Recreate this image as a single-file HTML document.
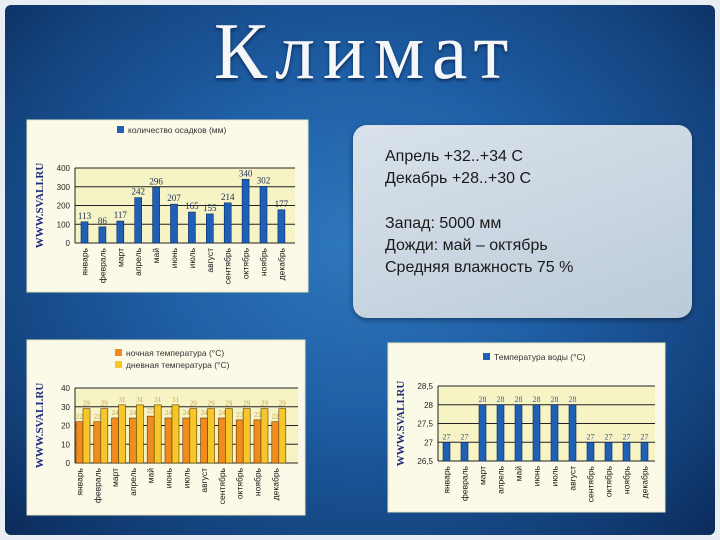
<!DOCTYPE html>
<html><head><meta charset="utf-8">
<style>
html,body{margin:0;padding:0;}
body{width:720px;height:540px;overflow:hidden;background:#e8eef4;font-family:"Liberation Sans",sans-serif;}
#slide{position:absolute;left:5px;top:5px;width:710px;height:530px;border-radius:6px;overflow:hidden;
background:radial-gradient(ellipse at 50% 45%,#2f78bd 0%,#1f5fa6 40%,#14447f 75%,#0b2b5a 100%);}
#title{position:absolute;left:0;width:720px;top:2px;text-align:center;font-family:"Liberation Serif",serif;font-size:80px;color:#f4f6f8;letter-spacing:8px;text-shadow:0 2px 3px #0a2a55;}
#textbox{position:absolute;left:348px;top:120px;width:339px;height:193px;border-radius:14px;background:linear-gradient(160deg,#d9e2ea,#bccbd9);box-shadow:0 2px 6px rgba(0,0,0,.4);}
#textbox div{position:absolute;left:32px;font-size:16px;color:#1a1a1a;white-space:nowrap;}
svg{position:absolute;left:0;top:0;}
</style></head>
<body>
<div id="slide">
<div id="title">Климат</div>
<div id="textbox">
<div style="top:23px">Апрель +32..+34 С</div>
<div style="top:45px">Декабрь +28..+30 С</div>
<div style="top:90px">Запад: 5000 мм</div>
<div style="top:112px">Дожди: май – октябрь</div>
<div style="top:134px">Средняя влажность 75 %</div>
</div>
</div>
<svg id="charts" width="720" height="540"></svg>
<script>
const months=["январь","февраль","март","апрель","май","июнь","июль","август","сентябрь","октябрь","ноябрь","декабрь"];
const rainValues=[113,86,117,242,296,207,165,155,214,340,302,177];
const rainTicks=[0,100,200,300,400];
const nightTemps=[22,22,24,24,25,24,24,24,24,23,23,22];
const dayTemps=[29,29,31,31,31,31,29,29,29,29,29,29];
const tempTicks=[0,10,20,30,40];
const waterTemps=[27,27,28,28,28,28,28,28,27,27,27,27];
const waterTicks=[26.5,27,27.5,28,28.5];

const svg=document.getElementById('charts');
const NS="http://www.w3.org/2000/svg";
function mk(tag,attrs,parent){const e=document.createElementNS(NS,tag);for(const k in attrs)e.setAttribute(k,attrs[k]);(parent||svg).appendChild(e);return e;}

function chart(o){
  const g=mk('g',{});
  
  
  const p=mk('rect',{x:o.px,y:o.py,width:o.pw,height:o.ph,fill:'#fbfae8',stroke:'#e6e2c0'},g);
  
  
  const pl=mk('rect',{x:o.x0,y:o.y1,width:o.x1-o.x0,height:o.y0-o.y1,fill:'#f6f3c4'},g);
  
  
  const ys=v=>o.y0-(v-o.ticks[0])/(o.ticks[o.ticks.length-1]-o.ticks[0])*(o.y0-o.y1);
  const xs=i=>o.x0+o.first+i*o.step;
  o.ticks.forEach(t=>{
    const ln=mk('line',{x1:o.x0,x2:o.x1,y1:ys(t),y2:ys(t),stroke:'#222','stroke-width':1},g);
    
    
    const tx=mk('text',{x:o.x0-5,y:ys(t)+3,'font-size':8,'text-anchor':'end',fill:'#222'},g);
    tx.textContent=String(t).replace('.',',');
    
    
  });
  mk('line',{x1:o.x0,x2:o.x0,y1:o.y1,y2:o.y0,stroke:'#222'},g);
  months.forEach((m,i)=>{
    const t=mk('text',{transform:`translate(${xs(i)+o.bw/2+3},${o.y0+5}) rotate(-90)`,'font-size':8.5,'text-anchor':'end',fill:'#111'},g);
    t.textContent=m;
    
    
  });
  o.series.forEach((s,si)=>{
    s.vals.forEach((v,i)=>{
      const x=xs(i)+si*o.bw*1;
      const y=ys(v);
      const b=mk('rect',{x:x,y:y,width:o.bw,height:o.y0-y,fill:s.color,stroke:s.edge,'stroke-width':0.6},g);
      
      
      const l=mk('text',{x:x+o.bw/2,y:y-3,'font-size':o.lfs,'text-anchor':'middle',fill:s.lcolor,'font-family':'Liberation Serif, serif'},g);
      l.textContent=v;
      
      
    });
  });
  o.legend.forEach((lg,i)=>{
    const r=mk('rect',{x:lg.x,y:lg.y-7,width:7,height:7,fill:lg.color},g);
    
    
    const t=mk('text',{x:lg.x+11,y:lg.y,'font-size':8.5,fill:'#333'},g);
    t.textContent=lg.text;
    
    
  });
  const w=mk('text',{transform:`translate(${o.px+16},${(o.y1+o.y0)/2}) rotate(-90)`,'font-size':11,'font-weight':'bold','text-anchor':'middle',fill:'#1e2a7a','font-family':'Liberation Serif, serif'},g);
  w.textContent='WWW.SVALI.RU';
  
  
}

chart({name:'rainfall-chart',px:27,py:120,pw:281,ph:172,x0:75,x1:295,y0:243,y1:168,ticks:rainTicks,first:6,step:17.9,bw:7,lfs:9,
  series:[{key:'rain',vals:rainValues,color:'#1f5fb5',edge:'#0a2a66',lcolor:'#1a2a5a'}],
  legend:[{x:117,y:133,color:'#1f5fb5',text:'количество осадков (мм)'}]});
chart({name:'air-temperature-chart',px:27,py:340,pw:278,ph:175,x0:75,x1:298,y0:463,y1:388,ticks:tempTicks,first:1,step:17.8,bw:7,lfs:7,
  series:[{key:'night',vals:nightTemps,color:'#f08c1e',edge:'#6b3300',lcolor:'#c9a040'},
          {key:'day',vals:dayTemps,color:'#f6c62a',edge:'#5a4200',lcolor:'#c9a040'}],
  legend:[{x:115,y:356,color:'#f08c1e',text:'ночная температура (°С)'},{x:115,y:368,color:'#f6c62a',text:'дневная температура (°С)'}]});
chart({name:'water-temperature-chart',px:388,py:343,pw:277,ph:169,x0:438,x1:655,y0:461,y1:386,ticks:waterTicks,first:5,step:18,bw:7,lfs:8,
  series:[{key:'water',vals:waterTemps,color:'#1f5fb5',edge:'#0a2a66',lcolor:'#3a5a9a'}],
  legend:[{x:483,y:360,color:'#1f5fb5',text:'Температура воды (°С)'}]});
</script>
</body></html>
